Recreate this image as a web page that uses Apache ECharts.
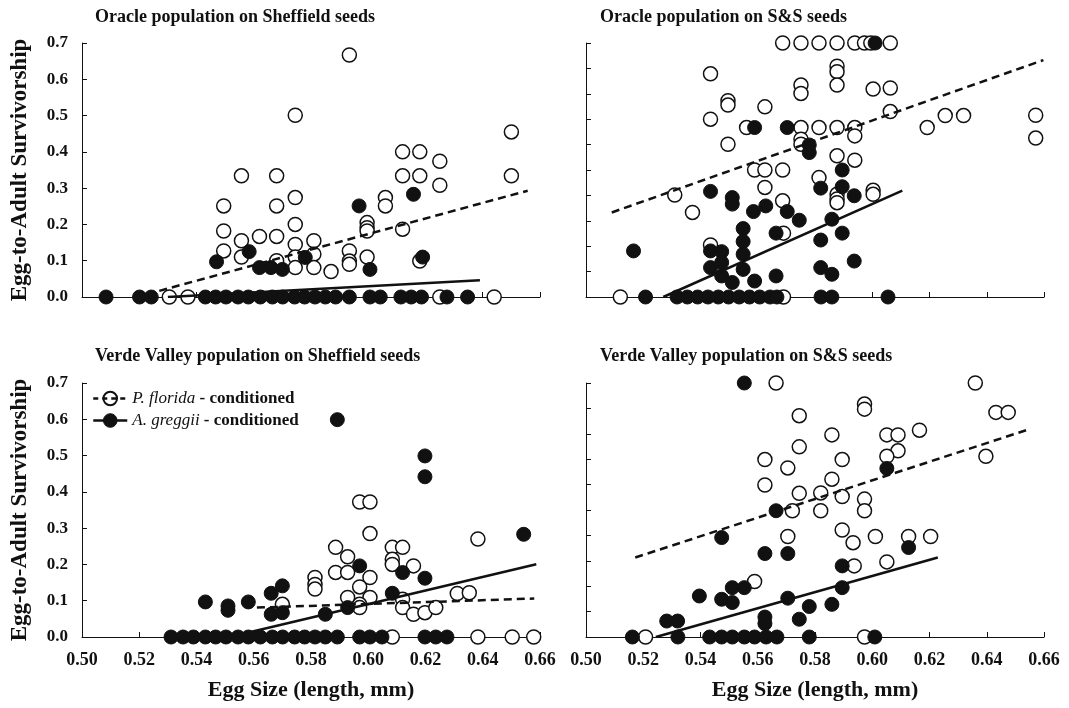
<!DOCTYPE html>
<html>
<head>
<meta charset="utf-8">
<script src="https://cdn.jsdelivr.net/npm/echarts@6/dist/echarts.min.js"></script>
<style>
    html, body { margin: 0; padding: 0; background: #fff; }
    #main { width: 1069px; height: 708px; }
</style>
</head>
<body>
<div id="main"></div>
<script>
// panel titles
var panelTitles = ['Oracle population on Sheffield seeds', 'Oracle population on S&S seeds',
    'Verde Valley population on Sheffield seeds', 'Verde Valley population on S&S seeds'];

// Oracle / Sheffield
var oracleShefOpen = [
    [0.5934,0.667],[0.5745,0.501],[0.650,0.455],[0.650,0.334],[0.612,0.400],[0.618,0.400],[0.625,0.374],
    [0.612,0.334],[0.618,0.334],[0.625,0.308],[0.5557,0.334],[0.568,0.334],[0.5745,0.274],[0.606,0.274],
    [0.606,0.251],[0.5495,0.251],[0.568,0.251],[0.5495,0.182],[0.5745,0.200],[0.5996,0.205],[0.5996,0.191],
    [0.5996,0.182],[0.612,0.187],[0.5557,0.155],[0.562,0.167],[0.568,0.167],[0.581,0.155],[0.5745,0.145],
    [0.5495,0.127],[0.5557,0.110],[0.5745,0.110],[0.581,0.118],[0.5934,0.127],[0.5934,0.099],[0.5934,0.090],
    [0.5996,0.110],[0.618,0.099],[0.5745,0.081],[0.581,0.081],[0.587,0.070],[0.568,0.100],
    [0.5305,0],[0.537,0],[0.625,0],[0.644,0]
];
var oracleShefFilled = [
    [0.5968,0.251],[0.6158,0.283],[0.547,0.097],[0.5584,0.125],[0.578,0.109],[0.619,0.110],[0.6006,0.076],
    [0.562,0.081],[0.566,0.081],[0.570,0.076],
    [0.5084,0],[0.5201,0],[0.5242,0],[0.5431,0],[0.5467,0],[0.5503,0],[0.5545,0],[0.5581,0],[0.5623,0],
    [0.5665,0],[0.5701,0],[0.5743,0],[0.5778,0],[0.5814,0],[0.5850,0],[0.5886,0],[0.5934,0],[0.6006,0],
    [0.6042,0],[0.6114,0],[0.6150,0],[0.6186,0],[0.6275,0],[0.6347,0]
];
var oracleShefDash = [[0.527,0.017],[0.6557,0.293]];
var oracleShefSolid = [[0.530,0.0],[0.639,0.046]];

// Oracle / S&S
var oracleSSOpen = [
    [0.5687,0.7],[0.5751,0.7],[0.5814,0.7],[0.5877,0.7],[0.5939,0.7],[0.5973,0.7],[0.6063,0.7],[0.5995,0.7],
    [0.5435,0.615],[0.5877,0.636],[0.5877,0.621],[0.5877,0.584],[0.5751,0.584],[0.5751,0.561],[0.6003,0.573],
    [0.6063,0.576],[0.5496,0.541],[0.5496,0.529],[0.5625,0.524],[0.5435,0.490],[0.6063,0.511],[0.6192,0.467],
    [0.6255,0.500],[0.6319,0.500],[0.6571,0.501],[0.6571,0.438],[0.5561,0.467],[0.5751,0.467],[0.5814,0.467],
    [0.5877,0.467],[0.5939,0.467],[0.5939,0.444],[0.5496,0.421],[0.5751,0.435],[0.5751,0.421],[0.5877,0.389],
    [0.5939,0.377],[0.5589,0.350],[0.5625,0.350],[0.5687,0.350],[0.5814,0.329],[0.5625,0.302],[0.5877,0.283],
    [0.5877,0.270],[0.5877,0.260],[0.6003,0.294],[0.6003,0.283],[0.531,0.281],[0.5372,0.233],[0.5687,0.265],
    [0.569,0.176],[0.5435,0.1435],
    [0.512,0],[0.569,0]
];
var oracleSSFilled = [
    [0.601,0.7],[0.5589,0.467],[0.5703,0.467],[0.578,0.419],[0.578,0.398],[0.5895,0.350],[0.5435,0.291],
    [0.5511,0.274],[0.5511,0.256],[0.582,0.300],[0.5895,0.304],[0.5937,0.279],[0.5628,0.251],[0.5585,0.2355],
    [0.5703,0.2355],[0.5745,0.2116],[0.5859,0.2144],[0.5549,0.1886],[0.5664,0.176],[0.5895,0.176],[0.582,0.157],
    [0.5549,0.153],[0.5549,0.118],[0.5166,0.127],[0.5435,0.127],[0.5474,0.125],[0.5474,0.095],[0.5937,0.099],
    [0.5435,0.081],[0.5474,0.058],[0.5511,0.040],[0.5549,0.076],[0.5589,0.044],[0.5664,0.058],[0.582,0.081],
    [0.5859,0.0626],
    [0.5208,0],[0.5318,0],[0.5354,0],[0.539,0],[0.5426,0],[0.5462,0],[0.5498,0],[0.5535,0],[0.5571,0],
    [0.5607,0],[0.5643,0],[0.5667,0],[0.5821,0],[0.5859,0],[0.6055,0]
];
var oracleSSDash = [[0.509,0.233],[0.6598,0.653]];
var oracleSSSolid = [[0.527,0.0],[0.6105,0.293]];

// Verde Valley / Sheffield
var verdeShefOpen = [
    [0.597,0.372],[0.6006,0.372],[0.6006,0.285],[0.6383,0.270],[0.5886,0.247],[0.6084,0.247],[0.612,0.247],
    [0.5928,0.221],[0.6084,0.214],[0.6084,0.200],[0.6158,0.196],[0.5886,0.178],[0.5928,0.178],[0.6006,0.164],
    [0.5814,0.164],[0.5814,0.145],[0.5814,0.132],[0.597,0.138],[0.5928,0.109],[0.6006,0.109],[0.597,0.090],
    [0.597,0.081],[0.570,0.090],[0.612,0.104],[0.612,0.081],[0.6158,0.0626],[0.6198,0.067],[0.6236,0.081],
    [0.6311,0.120],[0.6353,0.122],
    [0.6084,0],[0.6383,0],[0.6503,0],[0.6578,0]
];
var verdeShefFilled = [
    [0.5892,0.599],[0.6198,0.499],[0.6198,0.4416],[0.6543,0.283],[0.597,0.196],[0.612,0.1776],[0.6198,0.162],
    [0.570,0.141],[0.5661,0.1205],[0.5431,0.0966],[0.551,0.0856],[0.551,0.0736],[0.5581,0.0966],[0.5661,0.0626],
    [0.570,0.067],[0.585,0.0626],[0.5928,0.081],[0.6084,0.1205],
    [0.5311,0],[0.5353,0],[0.5389,0],[0.5431,0],[0.5467,0],[0.5503,0],[0.5545,0],[0.5581,0],[0.5623,0],
    [0.5665,0],[0.5701,0],[0.5743,0],[0.5778,0],[0.5814,0],[0.5850,0],[0.5892,0],[0.597,0],[0.6006,0],
    [0.6048,0],[0.6198,0],[0.6236,0],[0.6275,0]
];
var verdeShefDash = [[0.5611,0.081],[0.658,0.106]];
var verdeShefSolid = [[0.5515,0.0],[0.6587,0.2005]];

// Verde Valley / S&S
var verdeSSOpen = [
    [0.5664,0.7],[0.636,0.7],[0.5973,0.642],[0.5973,0.628],[0.5745,0.610],[0.6432,0.619],[0.6475,0.619],
    [0.5859,0.557],[0.6051,0.557],[0.609,0.557],[0.6165,0.570],[0.5745,0.524],[0.609,0.513],[0.6051,0.498],
    [0.6397,0.498],[0.5625,0.489],[0.5895,0.489],[0.5705,0.466],[0.5859,0.435],[0.5625,0.419],[0.582,0.397],
    [0.5745,0.396],[0.5895,0.387],[0.5973,0.380],[0.5973,0.348],[0.5721,0.348],[0.582,0.348],[0.5895,0.295],
    [0.5705,0.277],[0.6011,0.277],[0.6127,0.277],[0.6204,0.277],[0.5933,0.260],[0.6051,0.207],[0.5937,0.196],
    [0.5589,0.153],
    [0.5208,0],[0.5973,0]
];
var verdeSSFilled = [
    [0.5553,0.7],[0.6051,0.4646],[0.5664,0.348],[0.5474,0.274],[0.5625,0.230],[0.5705,0.230],[0.6127,0.2466],
    [0.5895,0.196],[0.5895,0.136],[0.5511,0.136],[0.5553,0.136],[0.5396,0.113],[0.5474,0.104],[0.5511,0.095],
    [0.5705,0.107],[0.578,0.084],[0.5859,0.090],[0.5282,0.044],[0.532,0.044],[0.5625,0.055],[0.5625,0.037],
    [0.5745,0.049],
    [0.5162,0],[0.5321,0],[0.5432,0],[0.5474,0],[0.5511,0],[0.5553,0],[0.5589,0],[0.5629,0],[0.5667,0],
    [0.578,0],[0.6009,0]
];
var verdeSSDash = [[0.5172,0.219],[0.655,0.573]];
var verdeSSSolid = [[0.5244,0.0],[0.6229,0.219]];

var openSets = [oracleShefOpen, oracleSSOpen, verdeShefOpen, verdeSSOpen];
var filledSets = [oracleShefFilled, oracleSSFilled, verdeShefFilled, verdeSSFilled];
var dashSets = [oracleShefDash, oracleSSDash, verdeShefDash, verdeSSDash];
var solidSets = [oracleShefSolid, oracleSSSolid, verdeShefSolid, verdeSSSolid];

var PF = 'P. florida';
var AG = 'A. greggii';
var FONT = '"Liberation Serif", "DejaVu Serif", serif';
var INK = '#111';

function init() {
    var myChart = echarts.init(document.getElementById('main'));

    var grids = [
        {left: 82, right: 529, top: 43, height: 254},
        {left: 586, right: 25, top: 43, height: 254},
        {left: 82, right: 529, top: 383, height: 254},
        {left: 586, right: 25, top: 383, height: 254}
    ];
    var titleSpots = [[90, 3], [595, 3], [90, 342], [595, 342]];

    var titles = [], xAxes = [], yAxes = [], series = [];
    for (var i = 0; i < 4; i++) {
        var isLeft = (i % 2 === 0), isBottom = (i >= 2);
        titles.push({
            text: panelTitles[i], left: titleSpots[i][0], top: titleSpots[i][1],
            textStyle: {fontFamily: FONT, fontWeight: 'bold', fontSize: 18, color: INK}
        });
        xAxes.push({
            gridIndex: i, type: 'value', min: 0.5, max: 0.66, interval: 0.02,
            name: isBottom ? 'Egg Size (length, mm)' : '', nameLocation: 'middle', nameGap: 42,
            nameTextStyle: {fontFamily: FONT, fontWeight: 'bold', fontSize: 22, color: INK},
            axisLine: {lineStyle: {color: INK, width: 1}},
            axisTick: {inside: true, length: 5, lineStyle: {color: INK}},
            axisLabel: {show: isBottom, margin: 14, fontFamily: FONT, fontWeight: 'bold', fontSize: 18, color: INK,
                formatter: function (v) { return v.toFixed(2); }},
            splitLine: {show: false}
        });
        yAxes.push({
            gridIndex: i, type: 'value', min: 0, max: 0.7, interval: isLeft ? 0.1 : 0.07,
            name: isLeft ? 'Egg-to-Adult Survivorship' : '', nameLocation: 'middle', nameGap: 50,
            nameTextStyle: {fontFamily: FONT, fontWeight: 'bold', fontSize: 23, color: INK},
            axisLine: {show: true, lineStyle: {color: INK, width: 1}},
            axisTick: {show: true, inside: true, length: 5, lineStyle: {color: INK}},
            axisLabel: {show: isLeft, margin: 14, fontFamily: FONT, fontWeight: 'bold', fontSize: 17, color: INK,
                formatter: function (v) { return v.toFixed(1); }},
            splitLine: {show: false}
        });
    }

    // regression lines first so the legend picks them up
    for (var j = 0; j < 4; j++) {
        series.push({
            name: PF, type: 'line', xAxisIndex: j, yAxisIndex: j, data: dashSets[j],
            symbol: 'circle', showSymbol: false, z: 4, silent: true,
            itemStyle: {color: '#fff', borderColor: INK},
            lineStyle: {color: INK, width: 2.5, type: [8, 5]}
        });
        series.push({
            name: AG, type: 'line', xAxisIndex: j, yAxisIndex: j, data: solidSets[j],
            symbol: 'circle', showSymbol: false, z: 4, silent: true,
            itemStyle: {color: INK},
            lineStyle: {color: INK, width: 2.5}
        });
    }
    for (var k = 0; k < 4; k++) {
        series.push({
            name: PF, type: 'scatter', xAxisIndex: k, yAxisIndex: k, data: openSets[k],
            symbol: 'circle', symbolSize: 14,
            itemStyle: {color: '#fff', borderColor: INK, borderWidth: 1.5, opacity: 1}
        });
        series.push({
            name: AG, type: 'scatter', xAxisIndex: k, yAxisIndex: k, data: filledSets[k],
            symbol: 'circle', symbolSize: 14,
            itemStyle: {color: INK, borderColor: INK, borderWidth: 1, opacity: 1}
        });
    }

    var option = {
        animation: false,
        backgroundColor: '#fff',
        title: titles,
        grid: grids,
        xAxis: xAxes,
        yAxis: yAxes,
        legend: {
            orient: 'vertical', left: 87, top: 385,
            itemWidth: 34, itemHeight: 17, itemGap: 5,
            selectedMode: false,
            data: [
                {name: PF, itemStyle: {color: 'rgba(255,255,255,0)', borderColor: INK, borderWidth: 2},
                    lineStyle: {color: INK, width: 2.5, type: [5, 4]}},
                {name: AG, itemStyle: {color: INK, borderColor: INK, borderWidth: 1},
                    lineStyle: {color: INK, width: 2.5, type: 'solid'}}
            ],
            formatter: function (name) {
                return '{i|' + name + '} - conditioned';
            },
            textStyle: {
                fontFamily: FONT, fontWeight: 'bold', fontSize: 17, color: INK,
                rich: {i: {fontFamily: FONT, fontStyle: 'italic', fontWeight: 'normal', fontSize: 17, color: INK}}
            }
        },
        series: series
    };
    myChart.setOption(option);
}

init();
</script>
</body>
</html>
